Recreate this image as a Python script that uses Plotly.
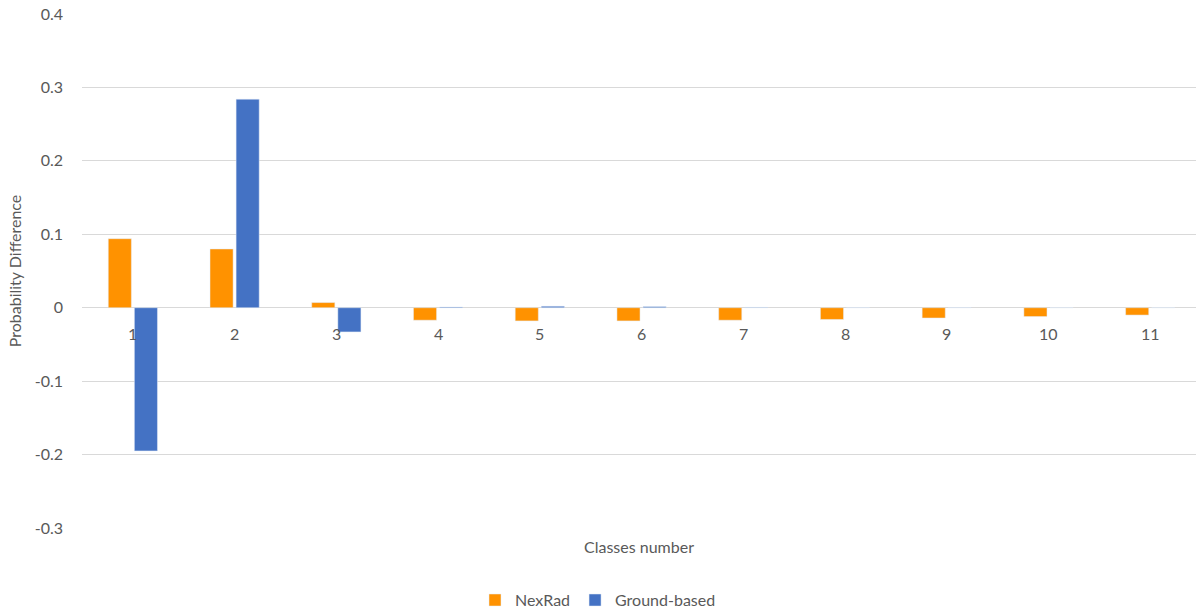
import plotly.graph_objects as go

# Class numbers and probability differences per data source
classes = [1, 2, 3, 4, 5, 6, 7, 8, 9, 10, 11]
nexrad = [0.094, 0.080, 0.007, -0.017, -0.018, -0.018, -0.017, -0.016, -0.014, -0.012, -0.010]
ground_based = [-0.195, 0.284, -0.033, 0.001, 0.002, 0.0015, 0.0005, 0.0002, 0.0002, 0.0001, 0.0001]

y_ticks = [-0.3, -0.2, -0.1, 0, 0.1, 0.2, 0.3, 0.4]
y_tick_text = ["-0.3", "-0.2", "-0.1", "0", "0.1", "0.2", "0.3", "0.4"]

FONT = "Lato, Open Sans, sans-serif"
GREY = "#595959"
GRID = "#d9d9d9"
FS = 16

fig = go.Figure()
fig.add_trace(go.Bar(x=classes, y=nexrad, name="NexRad", marker_color="#FF9200"))
fig.add_trace(go.Bar(x=classes, y=ground_based, name="Ground-based", marker_color="#4472C4"))

# Category labels sit just under the zero line
for c in classes:
    fig.add_annotation(x=c, y=0, xref="x", yref="y", text=str(c), showarrow=False,
                       yanchor="middle", yshift=-26,
                       font=dict(family=FONT, size=FS, color=GREY))

fig.add_annotation(x=0.5, y=0, xref="paper", yref="paper", text="Classes number",
                   showarrow=False, yanchor="middle", yshift=-18,
                   font=dict(family=FONT, size=FS, color=GREY))

fig.update_layout(
    width=1196, height=613,
    margin=dict(l=82, r=0, t=14, b=85, autoexpand=False),
    plot_bgcolor="white", paper_bgcolor="white",
    barmode="group", bargap=0.487, bargroupgap=0.115,
    font=dict(family=FONT, size=FS, color=GREY),
    showlegend=True,
    legend=dict(orientation="h", x=0.5, xanchor="center", xref="container",
                y=0.021, yanchor="middle", yref="container",
                font=dict(family=FONT, size=FS, color=GREY),
                itemwidth=30, traceorder="normal"),
    xaxis=dict(range=[0.5, 11.45], showticklabels=False, showgrid=False,
               zeroline=False, showline=False, ticks=""),
    yaxis=dict(range=[-0.3, 0.4], tickvals=y_ticks, ticktext=y_tick_text,
               showgrid=True, gridcolor=GRID, gridwidth=1,
               zeroline=True, zerolinecolor=GRID, zerolinewidth=1,
               ticks="", ticklabelstandoff=18,
               title=dict(text="Probability Difference", standoff=9,
                          font=dict(family=FONT, size=FS, color=GREY))),
)

fig.write_html("out.html")
